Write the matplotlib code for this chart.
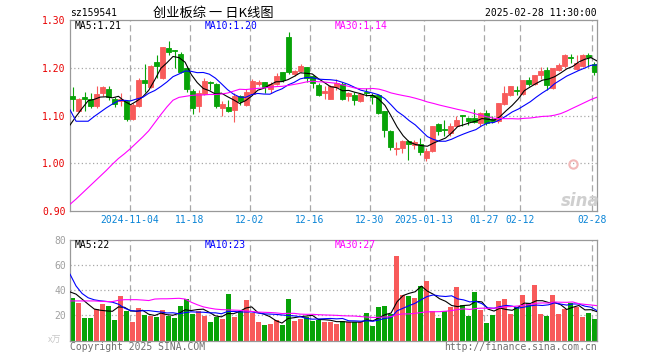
import numpy as np
import pandas as pd
import matplotlib
matplotlib.use("Agg")
import matplotlib.pyplot as plt

# 创业板综 sz159541, daily K line 2024-10-21 .. 2025-02-28 (88 trading days)
opens = [1.141, 1.110, 1.138, 1.135, 1.119, 1.147, 1.156, 1.135, 1.131, 1.131,
         1.092, 1.119, 1.175, 1.159, 1.211, 1.178, 1.241, 1.237, 1.229, 1.199,
         1.152, 1.120, 1.146, 1.171, 1.166, 1.116, 1.118, 1.111, 1.141, 1.123,
         1.146, 1.167, 1.170, 1.156, 1.166, 1.191, 1.265, 1.186, 1.194, 1.201,
         1.182, 1.164, 1.147, 1.135, 1.160, 1.166, 1.141, 1.143, 1.131, 1.150,
         1.143, 1.142, 1.109, 1.068, 1.030, 1.032, 1.046, 1.039, 1.041, 1.011,
         1.026, 1.083, 1.071, 1.063, 1.078, 1.102, 1.095, 1.095, 1.084, 1.105,
         1.092, 1.088, 1.125, 1.142, 1.153, 1.145, 1.175, 1.166, 1.185, 1.196,
         1.157, 1.196, 1.203, 1.222, 1.198, 1.203, 1.227, 1.208]
highs = [1.160, 1.137, 1.150, 1.147, 1.162, 1.162, 1.162, 1.138, 1.147, 1.133,
         1.126, 1.178, 1.208, 1.206, 1.227, 1.243, 1.255, 1.238, 1.234, 1.203,
         1.156, 1.154, 1.178, 1.173, 1.168, 1.131, 1.133, 1.147, 1.143, 1.155,
         1.177, 1.175, 1.171, 1.170, 1.190, 1.192, 1.274, 1.196, 1.207, 1.202,
         1.185, 1.168, 1.161, 1.164, 1.177, 1.170, 1.150, 1.149, 1.147, 1.157,
         1.147, 1.143, 1.110, 1.070, 1.044, 1.048, 1.049, 1.049, 1.053, 1.031,
         1.079, 1.084, 1.091, 1.084, 1.100, 1.102, 1.096, 1.114, 1.107, 1.112,
         1.098, 1.127, 1.161, 1.161, 1.161, 1.175, 1.180, 1.185, 1.201, 1.201,
         1.199, 1.210, 1.229, 1.229, 1.226, 1.229, 1.231, 1.212]
lows = [1.109, 1.108, 1.110, 1.115, 1.116, 1.140, 1.133, 1.118, 1.119, 1.089,
        1.091, 1.117, 1.150, 1.157, 1.178, 1.177, 1.226, 1.199, 1.189, 1.150,
        1.103, 1.107, 1.142, 1.153, 1.116, 1.100, 1.107, 1.086, 1.123, 1.119,
        1.143, 1.161, 1.147, 1.148, 1.163, 1.171, 1.186, 1.183, 1.191, 1.170,
        1.157, 1.140, 1.135, 1.134, 1.154, 1.133, 1.130, 1.123, 1.128, 1.140,
        1.125, 1.103, 1.056, 1.028, 1.018, 1.021, 1.007, 1.030, 1.018, 1.005,
        1.023, 1.060, 1.058, 1.058, 1.076, 1.077, 1.081, 1.084, 1.079, 1.081,
        1.085, 1.085, 1.123, 1.140, 1.142, 1.143, 1.162, 1.163, 1.177, 1.154,
        1.156, 1.193, 1.200, 1.210, 1.195, 1.201, 1.201, 1.184]
closes = [1.135, 1.135, 1.135, 1.119, 1.145, 1.159, 1.138, 1.124, 1.135, 1.093,
          1.123, 1.175, 1.169, 1.204, 1.203, 1.243, 1.233, 1.235, 1.192, 1.155,
          1.116, 1.147, 1.173, 1.169, 1.120, 1.125, 1.110, 1.140, 1.131, 1.150,
          1.173, 1.171, 1.160, 1.166, 1.183, 1.175, 1.192, 1.193, 1.204, 1.178,
          1.168, 1.143, 1.152, 1.161, 1.168, 1.135, 1.147, 1.133, 1.145, 1.148,
          1.138, 1.105, 1.070, 1.035, 1.032, 1.046, 1.040, 1.044, 1.023, 1.025,
          1.079, 1.067, 1.070, 1.077, 1.091, 1.098, 1.088, 1.086, 1.105, 1.084,
          1.088, 1.126, 1.147, 1.161, 1.151, 1.175, 1.166, 1.184, 1.194, 1.163,
          1.199, 1.205, 1.227, 1.220, 1.210, 1.227, 1.222, 1.192]
# volume, 万
volumes = [33.9, 30.2, 18.0, 18.0, 25.2, 29.1, 27.5, 16.4, 35.5, 23.6,
           14.8, 26.0, 20.4, 19.6, 18.8, 24.4, 19.6, 18.0, 27.5, 32.8,
           21.2, 23.6, 19.6, 14.8, 18.8, 17.2, 37.1, 18.8, 23.6, 32.3,
           22.0, 14.8, 12.5, 13.2, 16.4, 12.5, 33.1, 15.6, 17.2, 18.8,
           15.6, 16.4, 14.8, 15.0, 13.2, 15.6, 14.8, 14.8, 14.8, 22.0,
           11.7, 26.8, 27.5, 21.2, 67.3, 36.3, 35.5, 33.9, 43.4, 47.4,
           23.6, 18.0, 23.6, 26.8, 42.6, 28.3, 19.6, 38.7, 24.4, 14.0,
           20.4, 31.5, 33.1, 21.2, 26.8, 36.3, 29.9, 44.2, 21.2, 19.6,
           36.3, 21.2, 25.2, 29.9, 26.8, 18.8, 22.0, 17.2]

# moving averages at the left edge depend on days before the window
ma5_head = [1.080, 1.098, 1.115, 1.131]
ma10_head = [1.112, 1.088, 1.088, 1.088, 1.098, 1.107, 1.116, 1.124, 1.131]
ma30_head = [0.914, 0.925, 0.937, 0.949, 0.961, 0.973, 0.985, 0.998, 1.010, 1.020,
             1.031, 1.043, 1.055, 1.068, 1.085, 1.102, 1.118, 1.132, 1.138, 1.140,
             1.142, 1.143, 1.143, 1.144, 1.144, 1.145, 1.147, 1.151, 1.155]
vma5_head = [38.7, 36.9, 32.9, 28.9]
vma10_head = [52.8, 43.4, 37.4, 34.0, 32.4, 31.6, 31.1, 30.5, 28.9]
vma30_head = [31.5, 31.5, 31.5, 31.5, 31.5, 31.2, 31.0, 31.0, 32.0, 32.5,
              32.5, 32.5, 32.2, 31.8, 33.0, 33.2, 33.2, 33.4, 33.6, 33.0,
              30.5, 28.5, 26.8, 25.8, 25.0, 24.6, 24.4, 24.2, 24.0]

tick_idx = [10, 20, 30, 40, 50, 59, 69, 75, 87]
tick_labels = ['2024-11-04', '11-18', '12-02', '12-16', '12-30',
               '2025-01-13', '01-27', '02-12', '02-28']

W, H = 660, 360
RED = '#f85a5a'
GREEN = '#07a307'
GRID = '#a8a8a8'
MONO = 'DejaVu Sans Mono'
CJK = ['Noto Sans CJK SC', 'DejaVu Sans']


def ma(vals, n, head):
    m = pd.Series(vals, dtype=float).rolling(n).mean().to_numpy()
    m[:n - 1] = head
    return m


n = len(closes)
x = np.arange(n)
up = np.array(closes) >= np.array(opens)
colors = np.where(up, RED, GREEN)
half = 5 / 12
xmin, xmax = -half, n - 1 + half
xline = np.linspace(xmin, xmax, n)  # sina draws the MA lines edge to edge

fig = plt.figure(figsize=(W / 100, H / 100), dpi=100)
fig.patch.set_facecolor('white')
ax = fig.add_axes([70 / W, 1 - 211 / H, 527 / W, 191 / H])
axv = fig.add_axes([70 / W, 1 - 340.5 / H, 527 / W, 100.5 / H])

for a in (ax, axv):
    a.set_xlim(xmin, xmax)
    for s in a.spines.values():
        s.set_color('#999999')
        s.set_linewidth(0.9)
    for t in tick_idx:
        a.axvline(t - half, color=GRID, lw=0.9, ls=(0, (5, 3)), zorder=0)
    a.tick_params(length=0)

# price panel
ax.set_ylim(0.90, 1.30)
for yv in [1.0, 1.1, 1.2]:
    ax.axhline(yv, color=GRID, lw=0.9, ls=(0, (1, 2)), zorder=0)
ax.vlines(x, lows, highs, colors=colors, lw=0.8, zorder=2)
body_lo = np.minimum(opens, closes)
body_h = np.abs(np.array(closes) - np.array(opens))
ax.bar(x, body_h, bottom=body_lo, width=5 / 6, color=colors,
       edgecolor=colors, linewidth=0.6, zorder=3)
ax.plot(xline, ma(closes, 5, ma5_head), color='black', lw=0.8, zorder=4)
ax.plot(xline, ma(closes, 10, ma10_head), color='#0000ff', lw=0.8, zorder=4)
ax.plot(xline, ma(closes, 30, ma30_head), color='#ff00ff', lw=0.8, zorder=4)

ax.set_yticks([0.9, 1.0, 1.1, 1.2, 1.3])
ax.set_yticklabels(['0.90', '1.00', '1.10', '1.20', '1.30'],
                   color='#e80000', fontsize=7, family=MONO)
ax.set_xticks(np.array(tick_idx) - half)
ax.set_xticklabels(tick_labels, color='#0a84d6', fontsize=7, family=MONO)
ax.tick_params(axis='y', pad=3)
ax.tick_params(axis='x', pad=3)

# volume panel
axv.set_ylim(0, 80)
for yv in [20, 40, 60]:
    axv.axhline(yv, color=GRID, lw=0.9, ls=(0, (1, 2)), zorder=0)
axv.bar(x, volumes, width=5 / 6, color=colors, linewidth=0, zorder=2)
axv.plot(xline, ma(volumes, 5, vma5_head), color='black', lw=0.8, zorder=4)
axv.plot(xline, ma(volumes, 10, vma10_head), color='#0000ff', lw=0.8, zorder=4)
axv.plot(xline, ma(volumes, 30, vma30_head), color='#ff00ff', lw=0.8, zorder=4)
axv.set_yticks([20, 40, 60, 80])
axv.set_yticklabels(['20', '40', '60', '80'], color='#a0a0a0', fontsize=7, family=MONO)
axv.set_xticks([])
axv.tick_params(axis='y', pad=3)


def ftext(px, py, s, **kw):
    fig.text(px / W, 1 - py / H, s, va='center', **kw)


ftext(70, 13, 'sz159541', fontsize=7, family=MONO, color='black')
ftext(213, 13, '创业板综 一 日K线图', fontsize=9.5, family=CJK, color='black', ha='center')
ftext(597, 13, '2025-02-28 11:30:00', fontsize=7, family=MONO, color='black', ha='right')

ftext(75, 26, 'MA5:1.21', fontsize=7, family=MONO, color='black')
ftext(205, 26, 'MA10:1.20', fontsize=7, family=MONO, color='#0000ff')
ftext(335, 26, 'MA30:1.14', fontsize=7, family=MONO, color='#ff00ff')

ftext(75, 245, 'MA5:22', fontsize=7, family=MONO, color='black')
ftext(205, 245, 'MA10:23', fontsize=7, family=MONO, color='#0000ff')
ftext(335, 245, 'MA30:27', fontsize=7, family=MONO, color='#ff00ff')

ftext(48, 340, 'x万', fontsize=6.5, family=CJK, color='#c8c8c8')
ftext(70, 347, 'Copyright 2025 SINA.COM', fontsize=7, family=MONO, color='#707070')
ftext(597, 347, 'http://finance.sina.com.cn', fontsize=7, family=MONO,
      color='#707070', ha='right')

# sina watermark
ftext(580, 201, 'sina', fontsize=12, style='italic', weight='bold',
      color='#cfcfcf', ha='center')
ax.plot([0.955], [0.245], marker='o', ms=6, mfc='none', mec='#f2b8b8', mew=1.5,
        transform=ax.transAxes, zorder=1)

fig.savefig('out.png', dpi=100)
